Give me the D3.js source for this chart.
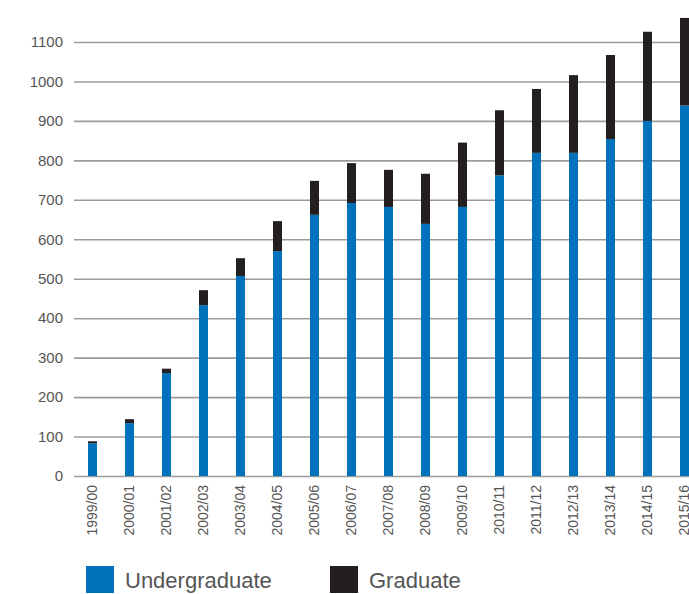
<!DOCTYPE html>
<html>
<head>
<meta charset="utf-8">
<script src="https://cdn.jsdelivr.net/npm/d3@7"></script>
<style>
  body { margin: 0; background: #fff; }
  svg text { font-family: "Liberation Sans", sans-serif; fill: #555; }
</style>
</head>
<body>
<div id="chart"></div>
<script>
// data
const years = ["1999/00", "2000/01", "2001/02", "2002/03", "2003/04", "2004/05", "2005/06",
  "2006/07", "2007/08", "2008/09", "2009/10", "2010/11", "2011/12", "2012/13", "2013/14",
  "2014/15", "2015/16"];
const undergraduate = [83, 134, 261, 433, 507, 570, 662, 692, 682, 639, 682, 762, 819, 819, 854, 900, 939];
const graduate = [5, 10, 11, 38, 45, 76, 86, 101, 94, 127, 163, 165, 162, 197, 213, 226, 222];
const yTicks = [0, 100, 200, 300, 400, 500, 600, 700, 800, 900, 1000, 1100];

const svgWidth = 689;
const svgHeight = 594;

const svg = d3.select("#chart")
    .append("svg")
    .attr("width", svgWidth)
    .attr("height", svgHeight);

const data = years.map((y, i) => ({ year: y, ug: undergraduate[i], grad: graduate[i] }));

// scales
const xScale = d3.scaleBand()
    .domain(years)
    .range([74, 74 + 37 * years.length])
    .paddingInner(28 / 37)
    .paddingOuter(14 / 37);

const yScale = d3.scaleLinear()
    .domain([0, 1100])
    .range([476, 42]);

// y axis doubles as gridlines
const leftAxis = d3.axisLeft(yScale)
    .tickValues(yTicks)
    .tickFormat(d3.format("d"))
    .tickSize(640)
    .tickPadding(11);

const yAxis = svg.append("g")
    .attr("transform", "translate(714, 0)")
    .call(leftAxis);
yAxis.select(".domain").remove();
yAxis.selectAll("line").attr("stroke", "#9b9b9b").attr("stroke-width", 1.6);
yAxis.selectAll("text").attr("font-size", 15).attr("fill", "#555");

// bars
svg.selectAll("rect.ug")
    .data(data)
    .join("rect")
    .attr("class", "ug")
    .attr("x", d => xScale(d.year))
    .attr("width", xScale.bandwidth())
    .attr("y", d => yScale(d.ug))
    .attr("height", d => yScale(0) - yScale(d.ug))
    .attr("fill", "#0071bb");

svg.selectAll("rect.grad")
    .data(data)
    .join("rect")
    .attr("class", "grad")
    .attr("x", d => xScale(d.year))
    .attr("width", xScale.bandwidth())
    .attr("y", d => yScale(d.ug + d.grad))
    .attr("height", d => yScale(d.ug) - yScale(d.ug + d.grad))
    .attr("fill", "#231f20");

// x axis labels, rotated
const bottomAxis = d3.axisBottom(xScale).tickSize(0).tickPadding(0);
const xAxis = svg.append("g")
    .attr("transform", "translate(0, 476)")
    .call(bottomAxis);
xAxis.select(".domain").remove();
xAxis.selectAll("text")
    .attr("font-size", 14)
    .attr("fill", "#555")
    .attr("text-anchor", "end")
    .attr("transform", "rotate(-90)")
    .attr("x", -9)
    .attr("y", 0)
    .attr("dy", "0.35em");

// legend
const legendItems = [
  { label: "Undergraduate", color: "#0071bb", x: 86 },
  { label: "Graduate", color: "#231f20", x: 330 }
];
const legend = svg.selectAll("g.legend")
    .data(legendItems)
    .join("g")
    .attr("class", "legend")
    .attr("transform", d => `translate(${d.x}, 566)`);
legend.append("rect")
    .attr("width", 28)
    .attr("height", 27)
    .attr("fill", d => d.color);
legend.append("text")
    .attr("x", 39)
    .attr("y", 22)
    .attr("font-size", 22)
    .attr("fill", "#555")
    .text(d => d.label);
</script>
</body>
</html>
